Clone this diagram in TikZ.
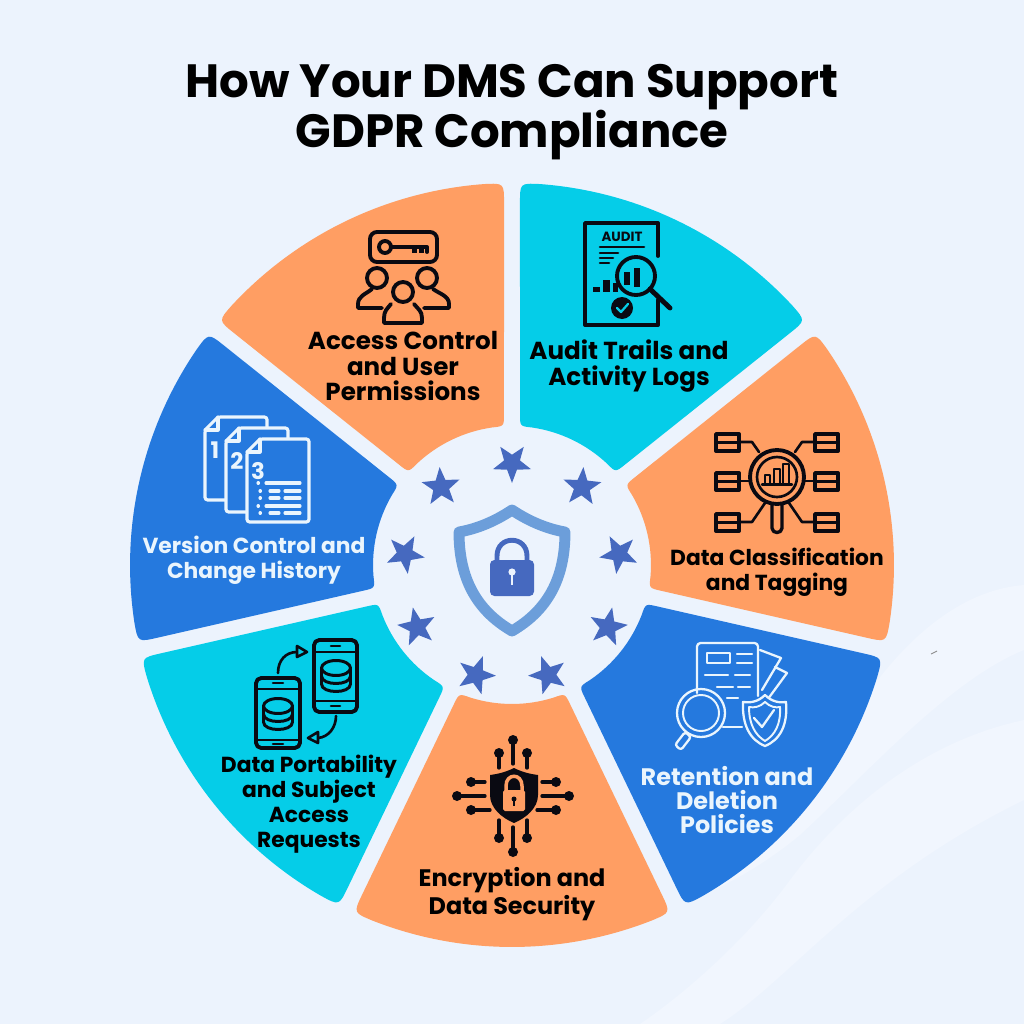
\documentclass[tikz,border=0pt]{standalone}
\usepackage{fontspec}
\setmainfont{Poppins}
\usetikzlibrary{shapes.geometric}
\definecolor{bgc}{HTML}{ECF3FD}
\definecolor{swoosh}{HTML}{F1F6FE}
\definecolor{orangec}{HTML}{FF9E63}
\definecolor{cyanc}{HTML}{05CDE8}
\definecolor{bluec}{HTML}{2579DE}
\definecolor{starc}{HTML}{4669BF}
\definecolor{shieldc}{HTML}{6C9EDA}
\definecolor{inkc}{HTML}{0A0A12}
\definecolor{paper}{HTML}{EAF5FD}
\newcommand{\sectorpath}{(139.4,58.2) -- (329.5,149.8) .. controls (347.6,158.5) .. (355.4,140)
 .. controls (390.8,50) and (390.8,-50) .. (355.4,-140)
 .. controls (347.6,-158.5) .. (329.5,-149.8) -- (139.4,-58.2)
 .. controls (128.5,-53) .. (132.6,-41.6)
 .. controls (141.1,-14.5) and (141.1,14.5) .. (132.6,41.6)
 .. controls (128.5,53) .. cycle}
\tikzset{
 lab/.style={align=center,font=\fontsize{12.4pt}{14.2pt}\selectfont\bfseries,inner sep=0pt},
 labbig/.style={align=center,font=\fontsize{14pt}{14.6pt}\selectfont\bfseries,inner sep=0pt},
 labmid/.style={align=center,font=\fontsize{13.6pt}{13.8pt}\selectfont\bfseries,inner sep=0pt},
 ttl/.style={align=center,font=\fontsize{26.55pt}{28.4pt}\selectfont\bfseries,inner sep=0pt,text=black},
 num/.style={text=paper,font=\fontsize{13pt}{13pt}\selectfont\bfseries,inner sep=0pt},
 euro/.style={star,star points=5,star point ratio=2.4,fill=starc,draw=none,minimum size=0.8cm,inner sep=0pt},
 ico/.style={line width=2.2pt,draw=inkc,line cap=round,line join=round},
 thin ico/.style={line width=1.5pt,draw=inkc,line cap=round,line join=round},
 wico/.style={line width=1.8pt,draw=paper,line cap=round,line join=round},
 rico/.style={line width=1.3pt,draw=paper,line cap=round,line join=round},
}
\begin{document}
\begin{tikzpicture}[x=0.02cm,y=-0.02cm]
\useasboundingbox (0,0) rectangle (1024,1024);
\fill[bgc] (0,0) rectangle (1024,1024);
% faint background swooshes
\fill[swoosh] (1024,585) .. controls (960,590) and (900,640) .. (850,720) .. controls (800,800) and (740,860) .. (690,900) .. controls (730,885) and (770,860) .. (800,835) .. controls (870,770) and (950,680) .. (1024,650) -- cycle;
\fill[swoosh] (1024,720) .. controls (930,740) and (850,800) .. (790,880) .. controls (750,935) and (690,990) .. (640,1024) -- (720,1024) .. controls (790,980) and (860,880) .. (1024,800) -- cycle;
\draw[black!45,line width=0.5pt] (931,654) -- (937,651);
% sectors
\foreach \ang/\col in {64.29/cyanc,115.71/orangec,167.14/bluec,218.57/cyanc,270/orangec,321.43/bluec,12.86/orangec}{
 \fill[\col,shift={(512,565)},rotate=\ang] \sectorpath;
}
% title
\node[ttl] (title) at (512,112) {How Your DMS Can Support\\GDPR Compliance};
% centre stars
\foreach \n/\px/\py/\rot in {s0/512/463/180,s1/582/487/140,s2/619/554/100,s3/608/627/60,s4/548/675/20,s5/476/675/-20,s6/417/627/-60,s7/405/554/-100,s8/441/487/-140}{
 \node[euro,rotate=\rot] (\n) at (\px,\py) {};
}
% central shield
\draw[shieldc,line width=6.2pt,line join=round] (512,510) .. controls (530,522) and (548,529) .. (565,532) .. controls (565,578) and (548,610) .. (512,631) .. controls (476,610) and (459,578) .. (459,532) .. controls (476,529) and (494,522) .. (512,510) -- cycle;
\draw[starc,line width=2.8pt] (497,562) -- (497,556) .. controls (497,535) and (527,535) .. (527,556) -- (527,562);
\fill[starc,rounded corners=2.5pt] (490,560) rectangle (534,596);
\fill[bgc] (512,572) circle[radius=3.6];
\fill[bgc] (510.6,573) rectangle (513.4,585);
% --- access control icon
\draw[ico,rounded corners=4pt] (370,232) rectangle (437,262);
\draw[ico] (385,247) circle[radius=6];
\draw[ico] (391,247) -- (427,247) -- (427,252);
\fill[inkc] (412,247) rectangle (417,253);
\fill[inkc] (419,247) rectangle (424,253);
\draw[ico] (377,278) circle[radius=10];
\draw[ico] (427,278) circle[radius=10];
\draw[ico] (403,292) circle[radius=10];
\draw[ico] (382,308) -- (358,308) -- (358,304) .. controls (358,296) and (366,294) .. (372,289);
\draw[ico] (424,308) -- (449,308) -- (449,304) .. controls (449,296) and (440,294) .. (433,289);
\draw[ico] (391,304) .. controls (387,309) and (384,311) .. (384,318) -- (384,323) -- (422,323) -- (422,318) .. controls (422,311) and (418,309) .. (414,304);
% --- audit icon
\draw[ico] (658,256) -- (658,223) -- (585,223) -- (585,325) -- (658,325) -- (658,300);
\node[text=inkc,font=\fontsize{7.6pt}{7.6pt}\selectfont\bfseries,inner sep=0pt] (audit) at (622,237) {AUDIT};
\draw[thin ico] (600,247) -- (644,247);
\draw[thin ico] (600,253) -- (618,253);
\draw[thin ico] (600,258) -- (613,258);
\draw[thin ico] (600,263) -- (609,263);
\fill[inkc] (593,287) rectangle (600,292);
\fill[inkc] (603,280) rectangle (610,292);
\fill[inkc] (613,283) rectangle (618,292);
\draw[ico] (636,276) circle[radius=19];
\fill[inkc] (624,272) rectangle (630,285);
\fill[inkc] (634,268) rectangle (640,287);
\draw[ico,line width=2.8pt] (650,289) -- (670,308);
\fill[inkc] (622,308) circle[radius=11];
\draw[cyanc,line width=1.3pt,line cap=round,line join=round] (617,308) -- (621,312) -- (628,304);
% --- version icon
\foreach \xa/\ya/\xb/\yb in {205/417/267/500,226/428/288/512,247/439/309/522}{
 \draw[wico,fill=bluec,rounded corners=1.5pt] (\xa+13,\ya) -- (\xb,\ya) -- (\xb,\yb) -- (\xa,\yb) -- (\xa,\ya+13) -- cycle;
 \draw[wico] (\xa,\ya+13) -- (\xa+13,\ya+13) -- (\xa+13,\ya);
}
\node[num] (n1) at (215,450) {1};
\node[num] (n2) at (237,461) {2};
\node[num] (n3) at (258,471) {3};
\foreach \yy in {483,506}{
 \draw[wico] (258,\yy) -- (258.5,\yy);
 \draw[wico] (266,\yy) -- (300,\yy);
}
\foreach \yy in {491,498,513}{
 \draw[wico] (260,\yy) -- (260.5,\yy);
 \draw[wico] (270,\yy) -- (279,\yy);
 \draw[wico] (285,\yy) -- (300,\yy);
}
% --- classification icon
\foreach \yy in {434,473,514}{
 \draw[ico] (716,\yy) rectangle (739,\yy+17);
 \draw[thin ico] (716,\yy+8.5) -- (739,\yy+8.5);
 \draw[ico] (815,\yy) rectangle (838,\yy+17);
 \draw[thin ico] (815,\yy+8.5) -- (838,\yy+8.5);
}
\draw[thin ico] (739,442) -- (752,442) -- (759,452);
\draw[thin ico] (739,481) -- (750,481);
\draw[thin ico] (739,522) -- (752,522) -- (765,503);
\draw[thin ico] (815,442) -- (802,442) -- (795,452);
\draw[thin ico] (815,481) -- (804,481);
\draw[thin ico] (815,522) -- (802,522) -- (789,503);
\draw[ico] (777,477) circle[radius=27];
\draw[thin ico] (777,477) circle[radius=20];
\draw[ico,line width=1.9pt] (772,504) -- (772,528) .. controls (772,534) and (782,534) .. (782,528) -- (782,504);
\draw[thin ico,line width=1.2pt] (765,475) rectangle (770,484);
\draw[thin ico,line width=1.2pt] (774,469) rectangle (780,484);
\draw[thin ico,line width=1.2pt] (783,464) rectangle (789,484);
\draw[ico,line width=1.4pt] (762,484.5) -- (792,484.5);
% --- retention icon
\fill[bluec] (758,650) -- (781,658) -- (770,680) -- (750,700) -- cycle;
\draw[rico] (760,650) -- (781,658) -- (762,690);
\draw[rico] (775,667) -- (787,673) -- (765,703);
\draw[rico,rounded corners=2pt] (697,693) -- (697,643) -- (758,643) -- (758,696);
\draw[rico] (723,727) -- (742,727);
\draw[rico] (707,653) rectangle (730,663);
\draw[rico] (737,654) -- (752,654);
\draw[rico] (737,663) -- (752,663);
\draw[rico] (705,675) -- (728,675);
\draw[rico] (735,675) -- (750,675);
\draw[rico] (717,687) -- (733,687);
\draw[rico] (738,687) -- (750,687);
\draw[rico] (727,698) -- (738,698);
\draw[rico] (701,713) circle[radius=24];
\draw[rico,line width=1.1pt] (701,713) circle[radius=18];
\draw[rico,rounded corners=1.5pt] (685,732) -- (691,737) -- (681,750) -- (675,745) -- cycle;
\draw[rico,fill=bluec] (765,695) .. controls (772,702) and (780,703) .. (786,702) .. controls (788,725) and (780,740) .. (765,746) .. controls (750,740) and (742,725) .. (743,702) .. controls (750,703) and (758,702) .. (765,695) -- cycle;
\draw[rico,line width=1.1pt] (765,702) .. controls (770,707) and (776,708) .. (780,707) .. controls (781,724) and (775,735) .. (765,741) .. controls (755,735) and (749,724) .. (749,707) .. controls (754,708) and (760,707) .. (765,702) -- cycle;
\draw[rico] (754,718) -- (762,727) -- (774,710);
% --- portability icon
\draw[ico,rounded corners=3pt] (256,678) rectangle (300,748);
\draw[thin ico] (256,689) -- (300,689);
\draw[thin ico] (256,740) -- (300,740);
\draw[thin ico] (273,683) -- (283,683);
\draw[thin ico] (273,744) -- (283,744);
\draw[ico,rounded corners=3pt] (314,640) rectangle (357,712);
\draw[thin ico] (314,652) -- (357,652);
\draw[thin ico] (314,701) -- (357,701);
\draw[thin ico] (331,646) -- (340,646);
\draw[thin ico] (331,706) -- (340,706);
\foreach \cx/\cy in {278/706,336/668}{
 \draw[ico,line width=1.7pt] (\cx,\cy) ellipse[x radius=14.5,y radius=7.5];
 \draw[ico,line width=1.7pt] (\cx-14.5,\cy) -- (\cx-14.5,\cy+16) .. controls (\cx-14.5,\cy+26) and (\cx+14.5,\cy+26) .. (\cx+14.5,\cy+16) -- (\cx+14.5,\cy);
 \draw[ico,line width=1.7pt] (\cx-14.5,\cy+8) .. controls (\cx-14.5,\cy+18) and (\cx+14.5,\cy+18) .. (\cx+14.5,\cy+8);
}
\draw[thin ico] (278,673) .. controls (278,660) and (286,652) .. (297,652);
\draw[thin ico,fill=cyanc] (297,646) -- (307,652) -- (297,657) -- cycle;
\draw[thin ico] (336,716) .. controls (336,727) and (329,737) .. (318,738);
\draw[thin ico,fill=cyanc] (318,732) -- (308,738) -- (318,743) -- cycle;
% --- encryption icon
\fill[inkc] (514,768) .. controls (522,772) and (530,774) .. (538,775) -- (538,795) .. controls (538,808) and (526,818) .. (514,823) .. controls (502,818) and (490,808) .. (490,795) -- (490,775) .. controls (498,774) and (506,772) .. (514,768) -- cycle;
\draw[orangec,line width=2pt] (506,792) -- (506,786) .. controls (506,773) and (522,773) .. (522,786) -- (522,792);
\fill[orangec,rounded corners=1pt] (503,790) rectangle (525,811);
\fill[inkc] (514,799) circle[radius=2.5];
\fill[inkc] (513,800) rectangle (515,806);
\foreach \ax/\ay/\bx/\by in {513/740/513/764,499/753/499/768,527/753/527/768,513/852/513/827,499/838/499/820,527/838/527/820,457/796/485/796,471/782/485/782,471/810/490/810,569/796/542/796,556/782/542/782,556/810/537/810}{
 \draw[ico,line width=1.9pt] (\ax,\ay) -- (\bx,\by);
 \fill[inkc] (\ax,\ay) circle[radius=5];
}
% labels
\node[labbig,text=black] (t1) at (403,366) {Access Control\\and User\\Permissions};
\node[labbig,text=black] (t2) at (629,366) {Audit Trails and\\Activity Logs};
\node[lab,text=paper] (t3) at (254,560) {Version Control and\\Change History};
\node[lab,text=black] (t4) at (777,572.5) {Data Classification\\and Tagging};
\node[labmid,text=paper] (t5) at (727,800) {Retention and\\Deletion\\Policies};
\node[lab,text=black] (t6) at (309,804) {Data Portability\\and Subject\\Access\\Requests};
\node[labmid,text=black] (t7) at (512,894) {Encryption and\\Data Security};
\end{tikzpicture}
\end{document}
